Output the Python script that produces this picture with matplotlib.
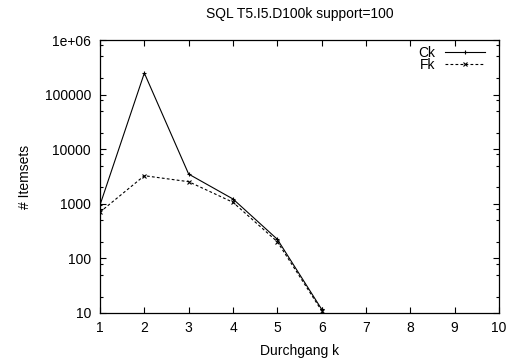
import matplotlib
matplotlib.use("Agg")
import matplotlib.pyplot as plt
from matplotlib.ticker import FixedLocator, FixedFormatter, NullFormatter

# Kandidaten (Ck) und haeufige Itemsets (Fk) je Durchgang
durchgang = [1, 2, 3, 4, 5, 6]
ck = [950, 248000, 3500, 1225, 224, 11.7]
fk = [705, 3270, 2540, 1065, 202, 11]

yticks = [10, 100, 1000, 10000, 100000, 1000000]
ylabels = ["10", "100", "1000", "10000", "100000", "1e+06"]
xticks = list(range(1, 11))

plt.rcParams["font.family"] = ["Liberation Sans", "DejaVu Sans"]
FS = 10

fig = plt.figure(figsize=(5.09, 3.58), dpi=100)
ax = fig.add_axes([100 / 509, 1 - 313 / 358, 399 / 509, 273 / 358])

ax.plot(durchgang, ck, color="black", lw=0.8, marker="+", ms=3, mew=0.8, label="Ck")
ax.plot(durchgang, fk, color="black", lw=0.8, ls=(0, (2.5, 2)), marker="x", ms=3.5, mew=0.8, label="Fk")

ax.set_yscale("log")
ax.set_xlim(1, 10)
ax.set_ylim(10, 1e6)
ax.xaxis.set_major_locator(FixedLocator(xticks))
ax.yaxis.set_major_locator(FixedLocator(yticks))
ax.yaxis.set_major_formatter(FixedFormatter(ylabels))
minor = [d * m for d in yticks[:-1] for m in (2, 5, 8)]
ax.yaxis.set_minor_locator(FixedLocator(minor))
ax.yaxis.set_minor_formatter(NullFormatter())

ax.tick_params(which="both", direction="in", top=True, right=True, labelsize=FS, width=0.8)
ax.tick_params(which="major", length=4)
ax.tick_params(which="minor", length=2)
ax.tick_params(axis="y", pad=6.5)
ax.tick_params(axis="x", pad=6)
for s in ax.spines.values():
    s.set_linewidth(0.9)

ax.set_title("SQL T5.I5.D100k support=100", fontsize=FS, pad=16)
ax.set_xlabel("Durchgang k", fontsize=FS, labelpad=6)
ax.set_ylabel("# Itemsets", fontsize=FS, labelpad=9)

ax.legend(loc="upper right", frameon=False, markerfirst=False, fontsize=FS,
          handlelength=2.9, handletextpad=0.7, labelspacing=-0.1,
          borderaxespad=0.0, bbox_to_anchor=(0.98, 1.0))

fig.savefig("out.png", dpi=100)
